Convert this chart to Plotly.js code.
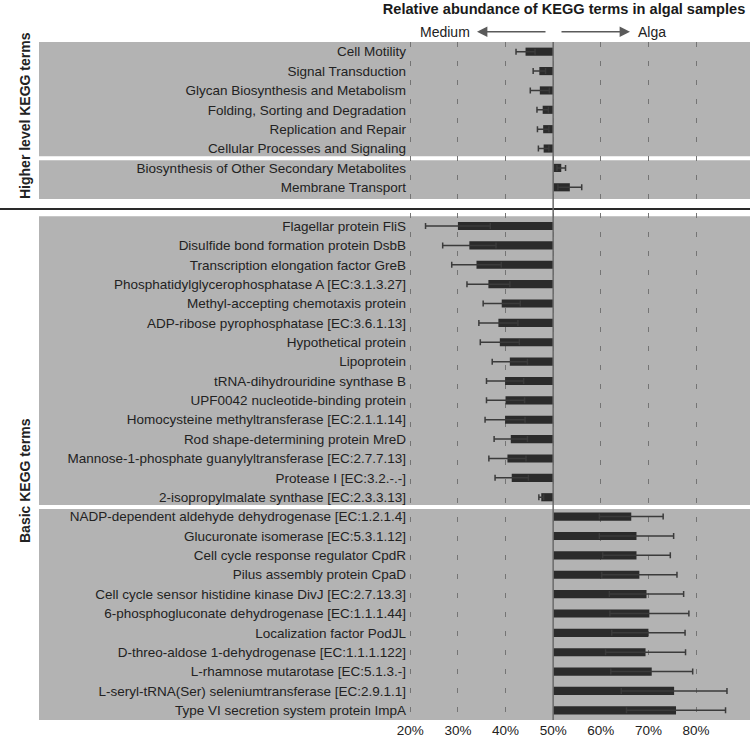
<!DOCTYPE html>
<html>
<head>
<meta charset="utf-8">
<script src="https://cdn.plot.ly/plotly-3.0.1.min.js"></script>
<style>html,body{margin:0;padding:0;background:#fff;}#chart{width:750px;height:739px;}</style>
</head>
<body>
<div id="chart"></div>
<script>
// ---- Data (relative abundance in algal samples, %) ----
const higherTopLabels = ['Cell Motility','Signal Transduction','Glycan Biosynthesis and Metabolism','Folding, Sorting and Degradation','Replication and Repair','Cellular Processes and Signaling'];
const higherTopMean = [44.2, 47.1, 47.2, 47.8, 47.9, 48.0];
const higherTopSD   = [2.0, 1.3, 2.0, 1.2, 1.2, 1.1];

const higherBottomLabels = ['Biosynthesis of Other Secondary Metabolites','Membrane Transport'];
const higherBottomMean = [51.7, 53.5];
const higherBottomSD   = [0.9, 2.5];

const basicMediumLabels = ['Flagellar protein FliS','Disulfide bond formation protein DsbB','Transcription elongation factor GreB','Phosphatidylglycerophosphatase A [EC:3.1.3.27]','Methyl-accepting chemotaxis protein','ADP-ribose pyrophosphatase [EC:3.6.1.13]','Hypothetical protein','Lipoprotein','tRNA-dihydrouridine synthase B','UPF0042 nucleotide-binding protein','Homocysteine methyltransferase [EC:2.1.1.14]','Rod shape-determining protein MreD','Mannose-1-phosphate guanylyltransferase [EC:2.7.7.13]','Protease I [EC:3.2.-.-]','2-isopropylmalate synthase [EC:2.3.3.13]'];
const basicMediumMean = [30.0, 32.4, 33.9, 36.4, 39.2, 38.5, 38.8, 40.9, 39.9, 40.0, 39.9, 41.1, 40.4, 41.3, 47.5];
const basicMediumSD   = [6.8, 5.6, 5.2, 4.5, 3.9, 4.1, 4.1, 3.7, 3.9, 4.0, 4.2, 3.5, 3.9, 3.5, 0.5];

const basicAlgaLabels = ['NADP-dependent aldehyde dehydrogenase [EC:1.2.1.4]','Glucuronate isomerase [EC:5.3.1.12]','Cell cycle response regulator CpdR','Pilus assembly protein CpaD','Cell cycle sensor histidine kinase DivJ [EC:2.7.13.3]','6-phosphogluconate dehydrogenase [EC:1.1.1.44]','Localization factor PodJL','D-threo-aldose 1-dehydrogenase [EC:1.1.1.122]','L-rhamnose mutarotase [EC:5.1.3.-]','L-seryl-tRNA(Ser) seleniumtransferase [EC:2.9.1.1]','Type VI secretion system protein ImpA'];
const basicAlgaMean = [66.4, 67.5, 67.5, 68.1, 69.6, 70.2, 70.0, 69.4, 70.7, 75.4, 75.8];
const basicAlgaSD   = [6.7, 7.8, 7.1, 7.9, 7.8, 8.3, 7.7, 8.4, 8.6, 11.1, 10.4];

const xTicks = [20, 30, 40, 50, 60, 70, 80];
const baseline = 50;

// ---- Build rows (one empty slot between higher-level and basic sections) ----
const groups = [
  {labels: higherTopLabels, mean: higherTopMean, sd: higherTopSD},
  {labels: higherBottomLabels, mean: higherBottomMean, sd: higherBottomSD},
  null,
  {labels: basicMediumLabels, mean: basicMediumMean, sd: basicMediumSD},
  {labels: basicAlgaLabels, mean: basicAlgaMean, sd: basicAlgaSD}
];
const yPos = [], labels = [], means = [], sds = [];
const boundaries = []; let spacerIdx = null;
let idx = 0;
groups.forEach((g, gi) => {
  if (g === null) { spacerIdx = idx; idx += 1; return; }
  if (gi > 0 && groups[gi-1] !== null) boundaries.push(idx - 0.5);
  g.labels.forEach((l, i) => {
    yPos.push(idx); labels.push(l); means.push(g.mean[i]); sds.push(g.sd[i]); idx++;
  });
});
const nSlots = idx;

const font = 'Liberation Sans, Arial, sans-serif';
const trace = {
  type: 'bar', orientation: 'h',
  y: yPos, x: means.map(v => v - baseline), base: baseline,
  width: 0.42,
  marker: {color: '#2b2b2b', line: {width: 0}},
  error_x: {type: 'data', array: sds, symmetric: true, color: '#3b3b3b', thickness: 1.5, width: 3},
  hoverinfo: 'skip'
};

const L = 39, W = 750 - L;
const pxToX = px => 20 + (px - 410.3) / 4.762;

const shapes = [];
boundaries.forEach(b => shapes.push({type: 'line', xref: 'paper', yref: 'y', x0: 0, x1: 1, y0: b, y1: b, line: {color: '#ffffff', width: 4}, layer: 'below'}));
shapes.push({type: 'rect', xref: 'paper', yref: 'y', x0: 0, x1: 1, y0: spacerIdx - 0.4, y1: spacerIdx + 0.5, fillcolor: '#ffffff', line: {width: 0}, layer: 'below'});
shapes.push({type: 'line', xref: 'paper', yref: 'y', x0: -L / W, x1: 1, y0: spacerIdx + 0.12, y1: spacerIdx + 0.12, line: {color: '#2a2a2a', width: 2}, layer: 'above'});
shapes.push({type: 'line', xref: 'x', yref: 'paper', x0: baseline, x1: baseline, y0: 0, y1: 1, line: {color: '#6a6a6a', width: 1.5}, layer: 'above'});

const annotations = [
  {text: 'Medium', xref: 'x', yref: 'paper', x: pxToX(472), y: 1 + 10.5/678, xanchor: 'right', yanchor: 'middle', showarrow: false, font: {family: font, size: 14, color: '#222'}},
  {text: 'Alga', xref: 'x', yref: 'paper', x: pxToX(636), y: 1 + 10.5/678, xanchor: 'left', yanchor: 'middle', showarrow: false, font: {family: font, size: 14, color: '#222'}},
  {text: '', xref: 'x', yref: 'paper', x: pxToX(477), y: 1 + 10.3/678, axref: 'x', ayref: 'paper', ax: pxToX(547), ay: 1 + 10.3/678, showarrow: true, arrowhead: 2, arrowsize: 1.3, arrowwidth: 1.6, arrowcolor: '#5a5a5a'},
  {text: '', xref: 'x', yref: 'paper', x: pxToX(630), y: 1 + 10.3/678, axref: 'x', ayref: 'paper', ax: pxToX(560), ay: 1 + 10.3/678, showarrow: true, arrowhead: 2, arrowsize: 1.3, arrowwidth: 1.6, arrowcolor: '#5a5a5a'},
  {text: '<b>Higher level KEGG terms</b>', xref: 'paper', yref: 'paper', x: (25 - L) / W, y: (720 - 116) / 678, textangle: -90, showarrow: false, xanchor: 'center', yanchor: 'middle', font: {family: font, size: 14, color: '#222'}},
  {text: '<b>Basic KEGG terms</b>', xref: 'paper', yref: 'paper', x: (25 - L) / W, y: (720 - 481) / 678, textangle: -90, showarrow: false, xanchor: 'center', yanchor: 'middle', font: {family: font, size: 14, color: '#222'}}
];

const layout = {
  width: 750, height: 739,
  margin: {l: L, r: 0, t: 42, b: 19, pad: 0},
  paper_bgcolor: '#ffffff', plot_bgcolor: '#b3b3b3',
  showlegend: false,
  title: {text: '<b>Relative abundance of KEGG terms in algal samples</b>', xref: 'paper', x: (564 - L) / W, xanchor: 'center', yref: 'container', y: 1 - 9/739, yanchor: 'middle', font: {family: font, size: 14.6, color: '#1a1a1a'}},
  xaxis: {range: [pxToX(L), pxToX(750)], tickvals: xTicks, ticktext: xTicks.map(v => v + '%'), ticks: '', showline: false, zeroline: false, showgrid: true, gridcolor: '#747474', gridwidth: 1, griddash: '5px,14px', tickfont: {family: font, size: 13.5, color: '#222'}, fixedrange: true},
  yaxis: {range: [nSlots - 0.5, -0.5], tickvals: yPos, ticktext: labels, anchor: 'free', position: (406 - L) / W, side: 'left', ticks: '', showline: false, zeroline: false, showgrid: false, tickfont: {family: font, size: 13.5, color: '#222'}, fixedrange: true},
  shapes: shapes,
  annotations: annotations,
  bargap: 0.5
};

Plotly.newPlot('chart', [trace], layout, {staticPlot: true, displayModeBar: false});
</script>
</body>
</html>
